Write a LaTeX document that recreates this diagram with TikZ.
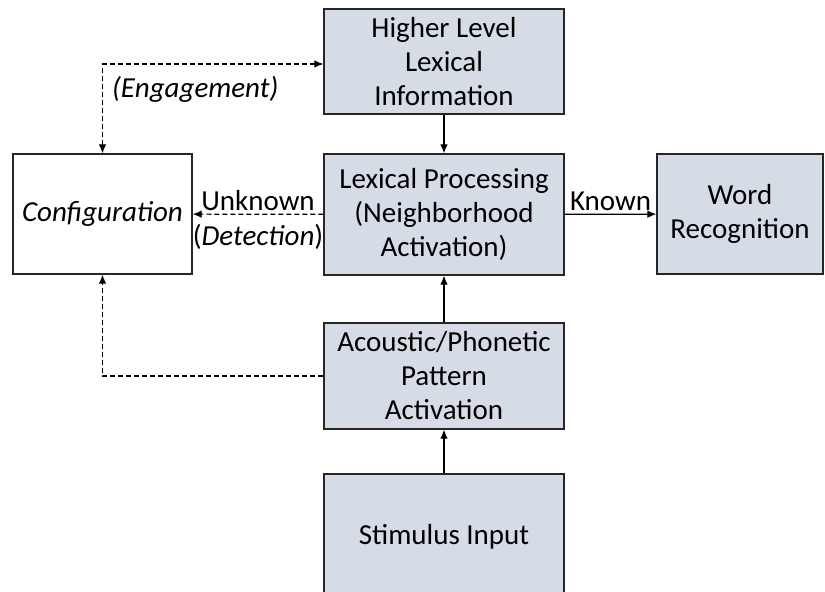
\documentclass[tikz,border=0pt]{standalone}
\usepackage{fontspec}
\setmainfont{Carlito}
\usepackage{tikz}
\usetikzlibrary{calc}
\usetikzlibrary{arrows.meta}
\usetikzlibrary{positioning}
\definecolor{boxfill}{RGB}{214,220,229}
\tikzstyle{stage}=[draw=black!85,line width=0.65pt,fill=boxfill,align=center,
                font=\fontsize{14.5}{17}\selectfont,inner sep=0]
\tikzstyle{plain stage}=[stage,fill=white]
\tikzstyle{flow}=[->,>={Latex[length=4.5pt,width=3.8pt]},line width=0.6pt]
\tikzstyle{cue}=[flow,dash pattern=on 2.5pt off 1.5pt]
\tikzstyle{lbl}=[font=\fontsize{14.5}{17}\selectfont,inner sep=1.5pt]

\begin{document}
\begin{tikzpicture}[x=0.5pt,y=-0.5pt]
\useasboundingbox (0,0) rectangle (825,592);
\node[stage,minimum width=120pt,minimum height=52.5pt] (hli) at (444,61.5)
  {Higher Level\\Lexical\\Information};
\node[stage,minimum width=120pt,minimum height=60.5pt] (lex) at (444,214.5)
  {Lexical Processing\\(Neighborhood\\Activation)};
\node[stage,minimum width=83pt,minimum height=60pt] (word) at (740,214)
  {Word\\Recognition};
\node[plain stage,minimum width=89.5pt,minimum height=60pt] (cfg) at (102.5,214)
  {\itshape Configuration};
\node[stage,minimum width=120pt,minimum height=53pt] (acou) at (444,376)
  {Acoustic/Phonetic\\Pattern\\Activation};
\node[stage,minimum width=120pt,minimum height=63pt] (stim) at (444,537)
  {Stimulus Input};
% lexical route
\draw[flow] (hli) -- (lex);
\draw[flow] (stim) -- (acou);
\draw[flow] (acou) -- (lex);
\draw[flow] (lex) -- node[lbl,above] {Known} (word);
% configuration feedback
\draw[cue] (lex) -- node[lbl,above] {Unknown}
  node[lbl,below,yshift=-3pt] {(\textit{Detection})} (cfg);
\draw[cue] (acou.west) -| (cfg.south);
\draw[cue,<->] (cfg.north) |- node[lbl,below,pos=0.71,yshift=-4.5pt] {\itshape (Engagement)}
  ($(hli.west)+(0,2.5)$);
\end{tikzpicture}
\end{document}
